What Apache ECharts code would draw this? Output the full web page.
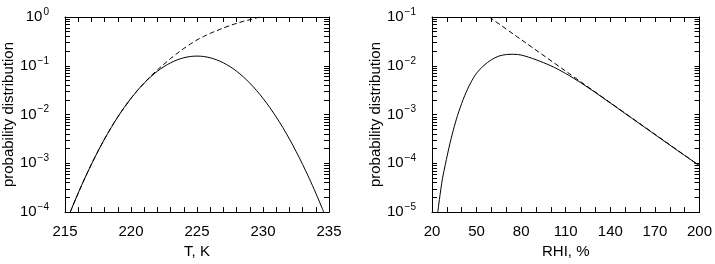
<!DOCTYPE html>
<html>
<head>
<meta charset="utf-8">
<script src="https://cdn.jsdelivr.net/npm/echarts@6/dist/echarts.min.js"></script>
<style>
  html, body { margin: 0; padding: 0; background: #fff; }
  #chart { width: 715px; height: 264px; }
</style>
</head>
<body>
<div id="chart"></div>
<script>
// left panel: temperature
const tempK = [215.4, 215.5, 216, 216.5, 217, 217.5, 218, 218.5, 219, 219.5, 220, 220.5, 221, 221.5, 222, 222.5, 223, 223.5, 224, 224.5, 225,
  225.5, 226, 226.5, 227, 227.5, 228, 228.5, 229, 229.5, 230, 230.5, 231, 231.5, 232, 232.5, 233, 233.5, 234, 234.5, 234.6];
const tempPdf = [1.00e-4, 1.17e-4, 2.45e-4, 4.93e-4, 9.53e-4, 1.77e-3, 3.16e-3, 5.42e-3, 8.93e-3, 1.41e-2, 2.15e-2, 3.14e-2, 4.42e-2, 5.96e-2, 7.73e-2, 9.62e-2, 0.115, 0.132, 0.146, 0.155, 0.158,
  0.155, 0.146, 0.132, 0.115, 9.62e-2, 7.73e-2, 5.96e-2, 4.42e-2, 3.14e-2, 2.15e-2, 1.41e-2, 8.93e-3, 5.42e-3, 3.16e-3, 1.77e-3, 9.53e-4, 4.93e-4, 2.45e-4, 1.17e-4, 1.00e-4];
const tempDashK = [215.4, 215.5, 216, 216.5, 217, 217.5, 218, 218.5, 219, 219.5, 220, 220.5, 221, 221.5, 222, 222.5, 223, 223.5, 224, 224.5, 225,
  225.5, 226, 226.5, 227, 227.5, 228, 228.5, 229, 229.5, 229.8];
const tempDashPdf = [1.00e-4, 1.17e-4, 2.45e-4, 4.93e-4, 9.53e-4, 1.77e-3, 3.16e-3, 5.42e-3, 8.93e-3, 1.41e-2, 2.15e-2, 3.14e-2, 4.42e-2, 6.17e-2, 8.22e-2, 0.108, 0.141, 0.180, 0.226, 0.279, 0.339,
  0.398, 0.462, 0.525, 0.596, 0.668, 0.741, 0.813, 0.881, 0.955, 1.0];
const tempTicks = [215, 220, 225, 230, 235];
const tempDecades = [1e-4, 1e-3, 1e-2, 1e-1, 1];

// right panel: relative humidity over ice
const rhi = [23.9, 25, 27, 29, 32, 35, 38, 42, 46, 50, 55, 60, 65, 70, 75, 80, 85, 90, 95, 100, 105, 110, 115, 120, 130, 140, 150, 160, 170, 180, 190, 200];
const rhiPdf = [1.0e-5, 1.82e-5, 4.79e-5, 9.55e-5, 2.51e-4, 5.69e-4, 1.14e-3, 2.44e-3, 4.45e-3, 7.05e-3, 1.02e-2, 1.33e-2, 1.58e-2, 1.70e-2, 1.72e-2, 1.66e-2, 1.50e-2, 1.33e-2, 1.16e-2, 1.00e-2, 8.41e-3, 6.92e-3, 5.62e-3, 4.52e-3, 2.82e-3, 1.72e-3, 1.05e-3, 6.38e-4, 3.89e-4, 2.37e-4, 1.45e-4, 8.91e-5];
const rhiDash = [58.5, 80, 110, 140, 170, 200];
const rhiDashPdf = [0.1, 3.44e-2, 7.76e-3, 1.75e-3, 3.95e-4, 8.91e-5];
const rhiTicks = [20, 50, 80, 110, 140, 170, 200];
const rhiDecades = [1e-5, 1e-4, 1e-3, 1e-2, 1e-1];

const FONT = "Liberation Sans, Arial, sans-serif";

function blackLine() {
  return { color: "#000", width: 1 };
}

// decade ticks plus 2..9 in every decade
function logTicks(decades) {
  let out = [];
  for (let i = 0; i < decades.length - 1; i++) {
    for (let m = 1; m <= 9; m++) out.push(+(decades[i] * m).toPrecision(3));
  }
  out.push(decades[decades.length - 1]);
  return out;
}

function supLabel(v) {
  let e = Math.round(Math.log10(v));
  return "{b|10}{s|" + (e < 0 ? "\u2212" + (-e) : e) + "}";
}

let xAxes = [];
let yAxes = [];

function addPanel(gi, xMin, xMax, xStep, xLabels, xName, decades, nameGap) {
  let xi = xAxes.length;
  ["bottom", "top"].forEach(function(pos) {
    xAxes.push({
      type: "value", gridIndex: gi, position: pos, min: xMin, max: xMax, interval: xStep,
      name: pos === "bottom" ? xName : null,
      nameLocation: "middle", nameGap: 30,
      nameTextStyle: { color: "#000", fontSize: 15, fontFamily: FONT },
      axisLine: { show: true, onZero: false, lineStyle: blackLine() },
      axisTick: { show: true, inside: true, length: 5, lineStyle: blackLine() },
      axisLabel: { show: pos === "bottom", customValues: xLabels, color: "#000", fontSize: 15, fontFamily: FONT, margin: 12 },
      splitLine: { show: false }
    });
  });
  let yi = yAxes.length;
  ["left", "right"].forEach(function(pos) {
    yAxes.push({
      type: "log", logBase: 10, gridIndex: gi, position: pos,
      min: decades[0], max: decades[decades.length - 1],
      name: pos === "left" ? "probability distribution" : null,
      nameLocation: "middle", nameGap: nameGap,
      nameTextStyle: { color: "#000", fontSize: 15, fontFamily: FONT },
      axisLine: { show: true, onZero: false, lineStyle: blackLine() },
      axisTick: { show: true, inside: true, length: 5, customValues: logTicks(decades), lineStyle: blackLine() },
      axisLabel: {
        show: pos === "left", customValues: decades, margin: 16, formatter: supLabel,
        rich: {
          b: { color: "#000", fontSize: 15, fontFamily: FONT, lineHeight: 17 },
          s: { color: "#000", fontSize: 10, fontFamily: FONT, lineHeight: 10, padding: [0, 0, 10, 1] }
        }
      },
      splitLine: { show: false }
    });
  });
  return { x: xi, y: yi };
}

const L = addPanel(0, 215, 235, 1, tempTicks, "T, K", tempDecades, 44);
const R = addPanel(1, 20, 200, 10, rhiTicks, "RHI, %", rhiDecades, 46);

function pairs(xs, ys) {
  return xs.map(function(x, i) { return [x, ys[i]]; });
}

function curve(axes, xs, ys, dashed) {
  return {
    type: "line", xAxisIndex: axes.x, yAxisIndex: axes.y,
    data: pairs(xs, ys), showSymbol: false, smooth: 0.3,
    lineStyle: { color: "#000", width: 1, type: dashed ? [5, 3] : "solid" },
    clip: true
  };
}

let myChart = echarts.init(document.getElementById("chart"));
myChart.setOption({
  animation: false,
  backgroundColor: "#fff",
  grid: [
    { left: 61, right: 386, top: 17, bottom: 41 },
    { left: 432, right: 13, top: 17, bottom: 41 }
  ],
  xAxis: xAxes,
  yAxis: yAxes,
  series: [
    curve(L, tempDashK, tempDashPdf, true),
    curve(L, tempK, tempPdf, false),
    curve(R, rhiDash, rhiDashPdf, true),
    curve(R, rhi, rhiPdf, false)
  ]
});
</script>
</body>
</html>
